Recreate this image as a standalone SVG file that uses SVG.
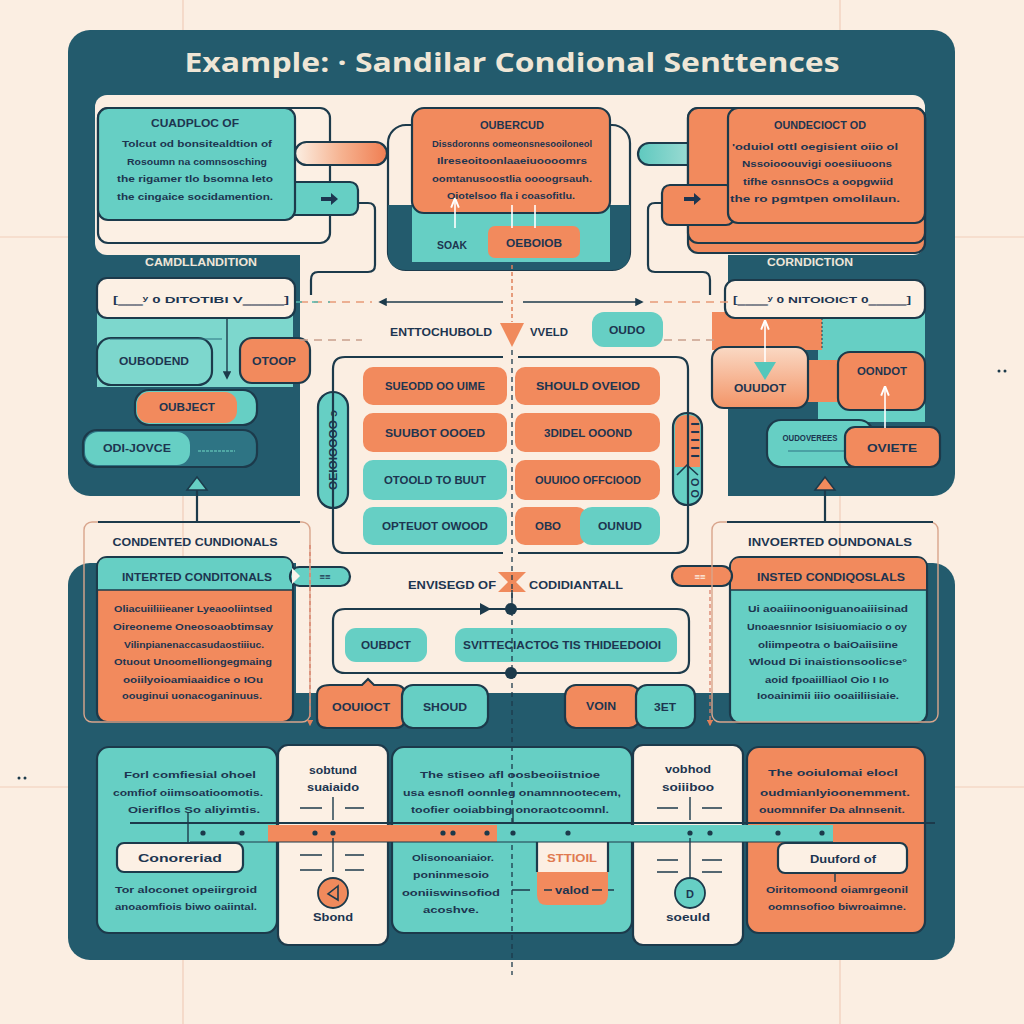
<svg xmlns="http://www.w3.org/2000/svg" width="1024" height="1024" viewBox="0 0 1024 1024">
<defs>
<style>
.dk{fill:#235B6D}
.dk2{fill:#2E7484}
.tq{fill:#66CFC4}
.tql{fill:#7DD7CD}
.or{fill:#F28A5D}
.cr{fill:#FCF0E4}
.o{stroke:#1C3A4B;stroke-width:2.2}
.ln{fill:none;stroke:#1C3A4B;stroke-width:2.2}
.thin{fill:none;stroke:#1C3A4B;stroke-width:1.4}
.faint{stroke:#F1CDBA;stroke-width:1.2}
.lab{font-family:"Liberation Sans",Arial,sans-serif;font-weight:bold;fill:#1D3550;text-anchor:middle;font-size:11px}
.body{font-family:"Liberation Sans",Arial,sans-serif;font-weight:bold;fill:#1D3550;text-anchor:middle;font-size:9.5px}
.crt{font-family:"Liberation Sans",Arial,sans-serif;font-weight:bold;fill:#EFE6D8;text-anchor:middle;font-size:10px}
.ttl{font-family:"Open Sans","Liberation Sans",Arial,sans-serif;font-weight:bold;fill:#EFE6D6;text-anchor:middle;font-size:27px}
.ortx{fill:#E07A50}
.crtx{fill:#FCEFE3}
</style>
<marker id="ad" viewBox="0 0 10 10" refX="8" refY="5" markerWidth="6" markerHeight="6" orient="auto-start-reverse"><path d="M0,0 L10,5 L0,10 z" fill="#1C3A4B"/></marker>
<marker id="aw" viewBox="0 0 10 10" refX="8" refY="5" markerWidth="6" markerHeight="6" orient="auto-start-reverse"><path d="M0,1 L10,5 L0,9" fill="none" stroke="#FFFFFF" stroke-width="2"/></marker>
<marker id="ao" viewBox="0 0 10 10" refX="8" refY="5" markerWidth="5" markerHeight="5" orient="auto-start-reverse"><path d="M0,0 L10,5 L0,10 z" fill="#E0805A"/></marker>
<linearGradient id="gOr" x1="0" x2="1" y1="0" y2="0"><stop offset="0" stop-color="#FCEFE3"/><stop offset="0.5" stop-color="#F6B391"/><stop offset="1" stop-color="#F07E52"/></linearGradient>
<linearGradient id="gTq" x1="0" x2="1" y1="0" y2="0"><stop offset="0" stop-color="#5FC9BF"/><stop offset="0.6" stop-color="#9FDCD4"/><stop offset="1" stop-color="#FCEFE3"/></linearGradient>
<linearGradient id="gOr2" x1="0" x2="0" y1="0" y2="1"><stop offset="0" stop-color="#FAD9C4"/><stop offset="1" stop-color="#F39467"/></linearGradient>
</defs>

<!-- background -->
<rect x="0" y="0" width="1024" height="1024" fill="#FBEEE2"/>
<g id="grid">
<line class="faint" x1="183" y1="0" x2="183" y2="1024"/>
<line class="faint" x1="840" y1="0" x2="840" y2="1024"/>
<line class="faint" x1="0" y1="237" x2="1024" y2="237"/>
<line class="faint" x1="0" y1="787" x2="1024" y2="787"/>
<circle cx="19" cy="778" r="1.5" fill="#1C3A4B"/><circle cx="25" cy="778" r="1.5" fill="#1C3A4B"/>
<circle cx="999" cy="371" r="1.5" fill="#1C3A4B"/><circle cx="1005" cy="371" r="1.5" fill="#1C3A4B"/>
</g>

<!-- panels -->
<g id="panels">
<rect class="dk" x="68" y="30" width="887" height="466" rx="22"/>
<rect x="300" y="250" width="428" height="320" fill="#FBEEE2"/>
<rect x="95" y="95" width="830" height="160" rx="12" fill="#FBEEE2"/>
<rect class="dk" x="68" y="563" width="887" height="397" rx="22"/>
<rect x="296" y="556" width="434" height="137" fill="#FBEEE2"/>
<text class="ttl" x="512" y="72" textLength="655" lengthAdjust="spacingAndGlyphs">Example: · Sandilar Condional Senttences</text>
</g>

<!-- top-left card -->
<g id="card-tl">
<rect class="cr o" x="98" y="108" width="232" height="135" rx="10"/>
<rect x="295" y="142" width="92" height="23" rx="11.5" fill="url(#gOr)" class="o"/>
<rect class="tq o" x="280" y="182" width="78" height="33" rx="8"/>
<rect class="tq o" x="98" y="108" width="197" height="112" rx="10"/>
<path d="M321,197 H331 V193 L338,199 L331,205 V201 H321 Z" fill="#1D3550"/>
<text class="lab" x="195" y="127" textLength="88" lengthAdjust="spacingAndGlyphs">CUADPLOC OF</text>
<text class="body" x="197" y="147" textLength="150" lengthAdjust="spacingAndGlyphs">Tolcut od bonsitealdtion of</text>
<text class="body" x="197" y="165" textLength="140" lengthAdjust="spacingAndGlyphs">Rosoumn na comnsosching</text>
<text class="body" x="195" y="182" textLength="156" lengthAdjust="spacingAndGlyphs">the rigamer tlo bsomna leto</text>
<text class="body" x="195" y="200" textLength="156" lengthAdjust="spacingAndGlyphs">the cingaice socidamention.</text>
</g>

<!-- top-center card -->
<g id="card-tc">
<rect x="388" y="125" width="242" height="145" rx="18" fill="#FBEEE2" class="o"/>
<path class="dk" d="M388,205 H630 V252 Q630,270 612,270 H406 Q388,270 388,252 Z"/>
<rect class="tq" x="412" y="205" width="198" height="57"/>
<rect class="or o" x="412" y="108" width="198" height="105" rx="12"/>
<rect class="or" x="488" y="226" width="92" height="32" rx="7"/>
<line x1="455" y1="228" x2="455" y2="200" stroke="#FFFFFF" stroke-width="1.6" marker-end="url(#aw)"/>
<line x1="512" y1="228" x2="512" y2="205" stroke="#FFFFFF" stroke-width="1.6"/>
<line x1="535" y1="228" x2="535" y2="205" stroke="#FFFFFF" stroke-width="1.6"/>
<text class="lab" x="512" y="129" textLength="64" lengthAdjust="spacingAndGlyphs">OUBERCUD</text>
<text class="body" x="512" y="147" font-size="9" textLength="160" lengthAdjust="spacingAndGlyphs">Dissdoronns oomeonsnesooiloneol</text>
<text class="body" x="512" y="164" font-size="9" textLength="150" lengthAdjust="spacingAndGlyphs">Ilreseoitoonlaaeiuoooomrs</text>
<text class="body" x="512" y="182" font-size="9" textLength="160" lengthAdjust="spacingAndGlyphs">oomtanusoostlia oooogrsauh.</text>
<text class="body" x="511" y="199" font-size="9" textLength="128" lengthAdjust="spacingAndGlyphs">Oiotelsoo fla i coasofitlu.</text>
<text class="lab" x="452" y="249" textLength="30" lengthAdjust="spacingAndGlyphs">SOAK</text>
<text class="lab" x="534" y="247" textLength="56" lengthAdjust="spacingAndGlyphs">OEBOIOB</text>
</g>

<!-- top-right card -->
<g id="card-tr">
<rect x="638" y="143" width="92" height="22" rx="11" fill="url(#gTq)" class="o"/>
<rect class="or o" x="688" y="108" width="237" height="145" rx="10"/>
<rect class="or o" x="688" y="108" width="237" height="135" rx="10"/>
<rect class="or o" x="662" y="185" width="72" height="40" rx="8"/>
<rect class="or o" x="728" y="108" width="197" height="115" rx="10"/>
<path d="M684,197 H694 V193 L701,199 L694,205 V201 H684 Z" fill="#1D3550"/>
<text class="lab" x="820" y="129" textLength="92" lengthAdjust="spacingAndGlyphs">OUNDECIOCT OD</text>
<text class="body" x="815" y="150" textLength="166" lengthAdjust="spacingAndGlyphs">'oduiol ottl oegisient oiio ol</text>
<text class="body" x="817" y="167" textLength="150" lengthAdjust="spacingAndGlyphs">Nssoiooouvigi ooesiiuoons</text>
<text class="body" x="818" y="185" textLength="150" lengthAdjust="spacingAndGlyphs">tifhe osnnsOCs a oopgwiid</text>
<text class="body" x="815" y="202" textLength="170" lengthAdjust="spacingAndGlyphs">the  ro pgmtpen omolilaun.</text>
</g>

<!-- left column -->
<g id="left-col">
<text class="crt" x="201" y="266" textLength="112" lengthAdjust="spacingAndGlyphs">CAMDLLANDITION</text>
<rect class="tql" x="97" y="312" width="196" height="75"/>
<rect class="cr o" x="97" y="278" width="198" height="40" rx="10"/>
<text class="body" x="201" y="303" font-size="10" textLength="176" lengthAdjust="spacingAndGlyphs">[‗‗‗ʸ 0 DITOTIBI V‗‗‗‗‗]</text>
<rect class="tql o" x="97" y="338" width="115" height="47" rx="14"/>
<text class="lab" x="154" y="365" textLength="70" lengthAdjust="spacingAndGlyphs">OUBODEND</text>
<rect class="or o" x="240" y="338" width="70" height="45" rx="12"/>
<text class="lab" x="274" y="365" textLength="44" lengthAdjust="spacingAndGlyphs">OTOOP</text>
<rect class="tq o" x="135" y="390" width="122" height="35" rx="14"/>
<rect class="or" x="137" y="392" width="100" height="31" rx="12"/>
<text class="lab" x="187" y="411" textLength="56" lengthAdjust="spacingAndGlyphs">OUBJECT</text>
<rect class="dk2 o" x="83" y="430" width="174" height="37" rx="14"/>
<rect class="tq" x="85" y="432" width="105" height="33" rx="13"/>
<text class="lab" x="137" y="452" textLength="68" lengthAdjust="spacingAndGlyphs">ODI-JOVCE</text>
<line x1="198" y1="451" x2="235" y2="451" stroke="#5BB8B0" stroke-width="1.5" stroke-dasharray="3,1"/>
</g>

<!-- right column -->
<g id="right-col">
<text class="crt" x="810" y="266" textLength="86" lengthAdjust="spacingAndGlyphs">CORNDICTION</text>
<rect class="tq" x="818" y="312" width="107" height="110"/>
<rect class="or" x="712" y="312" width="110" height="38"/>
<rect class="or" x="805" y="360" width="38" height="42"/>
<line x1="822" y1="318" x2="822" y2="350" stroke="#1C3A4B" stroke-width="1" stroke-dasharray="2,2"/>
<rect class="cr o" x="725" y="280" width="200" height="38" rx="10"/>
<text class="body" x="822" y="303" font-size="10" textLength="178" lengthAdjust="spacingAndGlyphs">[‗‗‗‗ʸ 0 NITOIOICT 0‗‗‗‗‗]</text>
<rect x="712" y="347" width="96" height="61" rx="12" fill="url(#gOr2)" class="o"/>
<path d="M754,362 L776,362 L765,380 Z" fill="#55C7BB"/>
<text class="lab" x="760" y="392" textLength="52" lengthAdjust="spacingAndGlyphs">OUUDOT</text>
<rect class="or o" x="838" y="352" width="87" height="58" rx="12"/>
<text class="lab" x="882" y="375" textLength="50" lengthAdjust="spacingAndGlyphs">OONDOT</text>
<rect class="tq o" x="767" y="420" width="106" height="47" rx="14"/>
<text class="body" x="810" y="441" font-size="8" textLength="55" lengthAdjust="spacingAndGlyphs">OUDOVEREES</text>
<line x1="788" y1="451" x2="845" y2="451" stroke="#2E7484" stroke-width="1.2"/>
<rect class="or o" x="845" y="427" width="95" height="40" rx="10"/>
<text class="lab" x="892" y="452" textLength="50" lengthAdjust="spacingAndGlyphs">OVIETE</text>
</g>

<!-- middle section -->
<g id="middle">
<text class="lab" x="441" y="336" textLength="102" lengthAdjust="spacingAndGlyphs">ENTTOCHUBOLD</text>
<path d="M500,323 L524,323 L512,347 Z" fill="#F08A5C"/>
<text class="lab" x="549" y="336" textLength="38" lengthAdjust="spacingAndGlyphs">VVELD</text>
<rect class="tq" x="592" y="312" width="71" height="35" rx="12"/>
<text class="lab" x="627" y="334" textLength="36" lengthAdjust="spacingAndGlyphs">OUDO</text>

<rect class="or" x="363" y="367" width="144" height="38" rx="10"/>
<text class="lab" x="435" y="390" textLength="100" lengthAdjust="spacingAndGlyphs">SUEODD OO UIME</text>
<rect class="or" x="515" y="367" width="145" height="38" rx="10"/>
<text class="lab" x="588" y="390" textLength="104" lengthAdjust="spacingAndGlyphs">SHOULD OVEIOD</text>
<rect class="or" x="363" y="413" width="144" height="39" rx="10"/>
<text class="lab" x="435" y="437" textLength="100" lengthAdjust="spacingAndGlyphs">SUUBOT OOOED</text>
<rect class="or" x="515" y="413" width="145" height="39" rx="10"/>
<text class="lab" x="588" y="437" textLength="88" lengthAdjust="spacingAndGlyphs">3DIDEL OOOND</text>
<rect class="tq" x="363" y="460" width="144" height="40" rx="10"/>
<text class="lab" x="435" y="484" textLength="102" lengthAdjust="spacingAndGlyphs">OTOOLD TO BUUT</text>
<rect class="or" x="515" y="460" width="145" height="40" rx="10"/>
<text class="lab" x="588" y="484" textLength="106" lengthAdjust="spacingAndGlyphs">OUUIOO OFFCIOOD</text>
<rect class="tq" x="363" y="507" width="144" height="38" rx="10"/>
<text class="lab" x="435" y="530" textLength="106" lengthAdjust="spacingAndGlyphs">OPTEUOT OWOOD</text>
<rect class="or" x="515" y="507" width="72" height="38" rx="10"/>
<rect class="tq" x="580" y="507" width="80" height="38" rx="12"/>
<text class="lab" x="548" y="530" textLength="26" lengthAdjust="spacingAndGlyphs">OBO</text>
<text class="lab" x="620" y="530" textLength="44" lengthAdjust="spacingAndGlyphs">OUNUD</text>

<rect class="tq o" x="318" y="392" width="30" height="116" rx="15"/>
<text class="lab" transform="translate(337,450) rotate(-90)" font-size="9" textLength="80" lengthAdjust="spacingAndGlyphs">OEIOIOOOO ͻ</text>
<rect class="tq o" x="673" y="413" width="29" height="92" rx="14"/>
<path d="M675,427 Q675,415 687,415 Q700,415 700,427 V467 H675 Z" fill="#F28A5D"/>
<path d="M677,475 L687,465 L698,475" fill="none" stroke="#1C3A4B" stroke-width="1.6"/>
<text class="lab" transform="translate(691,440) rotate(90)" font-size="8" textLength="36" lengthAdjust="spacingAndGlyphs">I I I I I</text>
<text class="lab" transform="translate(691,488) rotate(90)" font-size="8" textLength="20" lengthAdjust="spacingAndGlyphs">O O</text>
</g>

<!-- lower cards -->
<g id="card-bl">
<text class="lab" x="195" y="546" textLength="165" lengthAdjust="spacingAndGlyphs">CONDENTED CUNDIONALS</text>
<rect class="or o" x="97" y="557" width="196" height="165" rx="10"/>
<path class="tq" d="M98,567 Q98,558 107,558 H283 Q292,558 292,567 V590 H98 Z"/>
<line x1="98" y1="590" x2="292" y2="590" stroke="#1C3A4B" stroke-width="1.5"/>
<text class="lab" x="197" y="581" textLength="150" lengthAdjust="spacingAndGlyphs">INTERTED CONDITONALS</text>
<text class="body" x="193" y="612" textLength="158" lengthAdjust="spacingAndGlyphs">Oliacuiiliiieaner Lyeaooliintsed</text>
<text class="body" x="193" y="630" textLength="160" lengthAdjust="spacingAndGlyphs">Oireoneme Oneosoaobtimsay</text>
<text class="body" x="194" y="648" textLength="140" lengthAdjust="spacingAndGlyphs">Vilinpianenaccasudaostiiiuc.</text>
<text class="body" x="193" y="665" textLength="158" lengthAdjust="spacingAndGlyphs">Otuout Unoomelliongegmaing</text>
<text class="body" x="193" y="683" textLength="140" lengthAdjust="spacingAndGlyphs">ooiilyoioamiaaidice o IOu</text>
<text class="body" x="192" y="699" textLength="140" lengthAdjust="spacingAndGlyphs">oouginui uonacoganinuus.</text>
<rect class="tq o" x="290" y="567" width="60" height="19" rx="9.5"/>
<path d="M292,568 L300,576 L292,584" fill="#FBF3EA"/>
<text class="body" x="325" y="580" font-size="9">≡≡</text>
</g>

<g id="card-br">
<text class="lab" x="830" y="546" textLength="164" lengthAdjust="spacingAndGlyphs">INVOERTED OUNDONALS</text>
<rect class="tq o" x="730" y="557" width="197" height="166" rx="10"/>
<path class="or" d="M731,567 Q731,558 740,558 H917 Q926,558 926,567 V590 H731 Z"/>
<line x1="731" y1="590" x2="926" y2="590" stroke="#1C3A4B" stroke-width="1.5"/>
<text class="lab" x="831" y="581" textLength="148" lengthAdjust="spacingAndGlyphs">INSTED CONDIQOSLALS</text>
<text class="body" x="828" y="612" textLength="160" lengthAdjust="spacingAndGlyphs">Ui aoaiiinooniguanoaiiisinad</text>
<text class="body" x="827" y="630" textLength="160" lengthAdjust="spacingAndGlyphs">Unoaesnnior Isisiuomiacio o oy</text>
<text class="body" x="828" y="648" textLength="140" lengthAdjust="spacingAndGlyphs">oliimpeotra o baiOaiisiine</text>
<text class="body" x="828" y="665" textLength="158" lengthAdjust="spacingAndGlyphs">Wloud  Di inaistionsoolicse°</text>
<text class="body" x="827" y="683" textLength="124" lengthAdjust="spacingAndGlyphs">aoid fpoaiilliaol Oio I Io</text>
<text class="body" x="828" y="699" textLength="142" lengthAdjust="spacingAndGlyphs">Iooainimii iiio ooaiiliisiaie.</text>
<rect class="or o" x="672" y="566" width="60" height="20" rx="10"/>
<text class="body crtx" x="700" y="580" font-size="9">≡≡</text>
</g>

<g id="center-lower">
<text class="lab" x="452" y="589" textLength="88" lengthAdjust="spacingAndGlyphs">ENVISEGD OF</text>
<path d="M498,572 H526 L516,582 L526,592 H498 L508,582 Z" fill="#F08A5C"/>
<text class="lab" x="576" y="589" textLength="94" lengthAdjust="spacingAndGlyphs">CODIDIANTALL</text>
<rect class="tq" x="345" y="628" width="82" height="34" rx="11"/>
<text class="lab" x="386" y="649" textLength="50" lengthAdjust="spacingAndGlyphs">OUBDCT</text>
<rect class="tq" x="455" y="628" width="222" height="34" rx="11"/>
<text class="lab" x="562" y="649" textLength="198" lengthAdjust="spacingAndGlyphs">SVITTECIACTOG TIS THIDEEDOIOI</text>
<path class="or o" d="M330,685 H362 L368,679 L374,685 H395 Q405,685 405,695 V718 Q405,728 395,728 H327 Q317,728 317,718 V695 Q317,685 330,685 Z"/>
<text class="lab" x="361" y="711" textLength="58" lengthAdjust="spacingAndGlyphs">OOUIOCT</text>
<rect class="tq o" x="402" y="685" width="86" height="43" rx="11"/>
<text class="lab" x="445" y="711" textLength="44" lengthAdjust="spacingAndGlyphs">SHOUD</text>
<rect class="or o" x="565" y="685" width="75" height="43" rx="11"/>
<text class="lab" x="601" y="710" textLength="30" lengthAdjust="spacingAndGlyphs">VOIN</text>
<rect class="tq o" x="636" y="685" width="59" height="43" rx="11"/>
<text class="lab" x="665" y="711" textLength="22" lengthAdjust="spacingAndGlyphs">3ET</text>
</g>

<!-- bottom cards -->
<g id="bottom1">
<rect class="tq o" x="97" y="747" width="180" height="186" rx="12"/>
<text class="body" x="190" y="778" textLength="132" lengthAdjust="spacingAndGlyphs">Forl comfiesial ohoel</text>
<text class="body" x="188" y="796" textLength="150" lengthAdjust="spacingAndGlyphs">comfiof oiimsoatioomotis.</text>
<text class="body" x="194" y="813" textLength="132" lengthAdjust="spacingAndGlyphs">Oieriflos So aliyimtis.</text>
<rect class="cr o" x="117" y="843" width="126" height="29" rx="7"/>
<text class="lab" x="180" y="862" textLength="84" lengthAdjust="spacingAndGlyphs">Conoreriad</text>
<text class="body" x="186" y="893" textLength="142" lengthAdjust="spacingAndGlyphs">Tor aloconet opeiirgroid</text>
<text class="body" x="186" y="910" textLength="142" lengthAdjust="spacingAndGlyphs">anoaomfiois biwo oaiintal.</text>
</g>
<g id="bottom2">
<rect class="cr o" x="278" y="745" width="110" height="200" rx="10"/>
<text class="lab" x="333" y="774" textLength="48" lengthAdjust="spacingAndGlyphs">sobtund</text>
<text class="lab" x="333" y="791" textLength="52" lengthAdjust="spacingAndGlyphs">suaiaido</text>
<circle cx="333" cy="893" r="15" fill="#F08A5C" stroke="#1C3A4B" stroke-width="1.8"/>
<path d="M338,886 L328,894 L338,900 Z" fill="none" stroke="#1C3A4B" stroke-width="1.6"/>
<text class="lab" x="333" y="921" textLength="40" lengthAdjust="spacingAndGlyphs">Sbond</text>
</g>
<g id="bottom3">
<rect class="tq o" x="392" y="747" width="240" height="186" rx="12"/>
<text class="body" x="510" y="778" textLength="180" lengthAdjust="spacingAndGlyphs">The stiseo afl oosbeoiistnioe</text>
<text class="body" x="512" y="796" textLength="218" lengthAdjust="spacingAndGlyphs">usa esnofl oonnleg onamnnootecem,</text>
<text class="body" x="510" y="813" textLength="198" lengthAdjust="spacingAndGlyphs">toofier ooiabbing  onoraotcoomnl.</text>
<text class="body" x="453" y="861" textLength="82" lengthAdjust="spacingAndGlyphs">Olisonoaniaior.</text>
<text class="body" x="451" y="878" textLength="76" lengthAdjust="spacingAndGlyphs">poninmesoio</text>
<text class="body" x="451" y="896" textLength="98" lengthAdjust="spacingAndGlyphs">ooniiswinsofiod</text>
<text class="body" x="451" y="913" textLength="56" lengthAdjust="spacingAndGlyphs">acoshve.</text>
<path d="M537,842 V895 Q537,905 547,905 H598 Q608,905 608,895 V842" fill="#F28A5D"/>
<rect x="537" y="842" width="71" height="30" fill="#FCEFE3"/>
<path class="ln" d="M537,842 V872 M608,842 V872"/>
<text class="lab ortx" x="572" y="862" textLength="50" lengthAdjust="spacingAndGlyphs">STTIOIL</text>
<text class="lab" x="572" y="894" textLength="34" lengthAdjust="spacingAndGlyphs">valod</text>
<path d="M512,890 H530 M544,890 H552 M592,890 H602 M608,890 H614" class="thin"/>
</g>
<g id="bottom4">
<rect class="cr o" x="633" y="745" width="110" height="200" rx="10"/>
<text class="lab" x="688" y="773" textLength="46" lengthAdjust="spacingAndGlyphs">vobhod</text>
<text class="lab" x="688" y="791" textLength="52" lengthAdjust="spacingAndGlyphs">soiiiboo</text>
<circle cx="690" cy="893" r="15" fill="#66CFC4" stroke="#1C3A4B" stroke-width="1.8"/>
<text class="lab" x="690" y="898" font-size="13">D</text>
<text class="lab" x="688" y="921" textLength="44" lengthAdjust="spacingAndGlyphs">soeuld</text>
</g>
<g id="bottom5">
<rect class="or o" x="747" y="747" width="178" height="186" rx="12"/>
<text class="body" x="833" y="776" textLength="130" lengthAdjust="spacingAndGlyphs">The ooiulomai elocl</text>
<text class="body" x="835" y="796" textLength="150" lengthAdjust="spacingAndGlyphs">oudmianlyioonemment.</text>
<text class="body" x="832" y="813" textLength="146" lengthAdjust="spacingAndGlyphs">ouomnnifer Da alnnsenit.</text>
<rect class="cr o" x="778" y="843" width="129" height="30" rx="7"/>
<text class="lab" x="843" y="863" textLength="66" lengthAdjust="spacingAndGlyphs">Duuford of</text>
<text class="body" x="837" y="893" textLength="142" lengthAdjust="spacingAndGlyphs">Oiritomoond oiamrgeonil</text>
<text class="body" x="837" y="910" textLength="138" lengthAdjust="spacingAndGlyphs">oomnsofioo biwroaimne.</text>
</g>

<!-- connectors -->
<g id="connectors">
<path class="ln" d="M358,203 H368 Q375,203 375,210 V265 Q375,272 368,272 H318 Q311,272 311,280 V295"/>
<path class="ln" d="M662,203 H655 Q648,203 648,210 V265 Q648,272 655,272 H703 Q710,272 710,280 V295"/>
<line x1="512" y1="265" x2="512" y2="322" stroke="#E0805A" stroke-width="1.5" stroke-dasharray="4,3"/>
<line x1="512" y1="350" x2="512" y2="975" stroke="#1C3A4B" stroke-width="1.3" stroke-dasharray="5,4"/>
<line x1="300" y1="302" x2="372" y2="302" stroke="#E79A78" stroke-width="1.6" stroke-dasharray="8,6"/>
<line x1="650" y1="302" x2="728" y2="302" stroke="#E79A78" stroke-width="1.6" stroke-dasharray="8,6"/>
<line x1="296" y1="302" x2="330" y2="302" stroke="#52B8AE" stroke-width="1.6" stroke-dasharray="6,10"/>
<line x1="503" y1="302" x2="380" y2="302" class="thin" marker-end="url(#ad)"/>
<line x1="523" y1="302" x2="642" y2="302" class="thin" marker-end="url(#ad)"/>
<line x1="300" y1="340" x2="362" y2="340" stroke="#C9A08D" stroke-width="1.6" stroke-dasharray="8,6"/>
<line x1="664" y1="340" x2="716" y2="340" stroke="#C9A08D" stroke-width="1.6" stroke-dasharray="8,6"/>
<path class="ln" d="M503,357 H345 Q333,357 333,369 V541 Q333,553 345,553 H503 M518,553 H676 Q688,553 688,541 V369 Q688,357 676,357 H518"/>
<line x1="227" y1="318" x2="227" y2="378" class="thin" marker-end="url(#ad)"/>
<line x1="110" y1="339" x2="222" y2="339" stroke="#2E7484" stroke-width="1.2"/>
<line x1="765" y1="362" x2="765" y2="322" stroke="#FFFFFF" stroke-width="1.6" marker-end="url(#aw)"/>
<line x1="885" y1="428" x2="885" y2="388" stroke="#FFFFFF" stroke-width="1.6" marker-end="url(#aw)"/>
<line x1="197" y1="522" x2="197" y2="482" class="ln"/>
<path d="M187,490 L197,477 L207,490 Z" fill="#66CFC4" stroke="#1C3A4B" stroke-width="1.5"/>
<line x1="825" y1="522" x2="825" y2="482" class="ln"/>
<path d="M815,490 L825,477 L835,490 Z" fill="#F08A5C" stroke="#1C3A4B" stroke-width="1.5"/>
<rect x="84" y="522" width="226" height="200" rx="8" fill="none" stroke="#D9A58C" stroke-width="1.4"/>
<line x1="98" y1="522" x2="300" y2="522" class="ln"/>
<rect x="712" y="522" width="226" height="200" rx="8" fill="none" stroke="#D9A58C" stroke-width="1.4"/>
<line x1="727" y1="522" x2="933" y2="522" class="ln"/>
<line x1="310" y1="545" x2="310" y2="725" stroke="#D9806A" stroke-width="1.3" stroke-dasharray="4,3" marker-end="url(#ao)"/>
<line x1="710" y1="590" x2="710" y2="725" stroke="#D9806A" stroke-width="1.3" stroke-dasharray="4,3" marker-end="url(#ao)"/>
<path class="ln" d="M345,609 H677 Q689,609 689,621 V661 Q689,673 677,673 H345 Q333,673 333,661 V621 Q333,609 345,609 Z"/>
<path d="M480,603 L491,609 L480,615 Z" fill="#1C3A4B"/>
<circle cx="511" cy="609" r="6" fill="#1C3A4B"/>
<circle cx="511" cy="673" r="6" fill="#1C3A4B"/>
<path d="M512,590 L512,602" class="thin"/>
<line x1="130" y1="823" x2="935" y2="823" stroke="#1C3A4B" stroke-width="2"/>
<rect x="190" y="825" width="80" height="17" fill="#66CFC4"/>
<rect x="268" y="825" width="230" height="17" fill="#F28A5D"/>
<rect x="497" y="825" width="336" height="17" fill="#66CFC4"/>
<line x1="190" y1="842" x2="833" y2="842" stroke="#1C3A4B" stroke-width="1.2"/>
<line x1="188" y1="812" x2="188" y2="843" class="thin"/>
<line x1="513" y1="808" x2="513" y2="823" class="thin"/>
<line x1="835" y1="873" x2="835" y2="882" class="thin"/>
<g fill="#1C3A4B">
<circle cx="203" cy="833" r="2.6"/><circle cx="242" cy="833" r="2.6"/><circle cx="315" cy="833" r="2.6"/><circle cx="333" cy="833" r="2.6"/>
<circle cx="443" cy="833" r="2.6"/><circle cx="453" cy="833" r="2.6"/><circle cx="487" cy="833" r="2.6"/><circle cx="513" cy="833" r="2.6"/>
<circle cx="568" cy="833" r="2.6"/><circle cx="690" cy="833" r="2.6"/><circle cx="710" cy="833" r="2.6"/><circle cx="778" cy="833" r="2.6"/><circle cx="822" cy="833" r="2.6"/>
</g>
<path class="thin" d="M333,797 V820 M333,838 V872 M300,808 H322 M345,808 H364 M300,855 H322 M345,855 H364 M300,870 H322 M345,870 H364"/>
<path class="thin" d="M690,797 V820 M690,838 V878 M657,808 H678 M702,808 H722 M657,860 H678 M702,860 H722 M657,872 H678 M702,872 H722"/>
</g>
</svg>
